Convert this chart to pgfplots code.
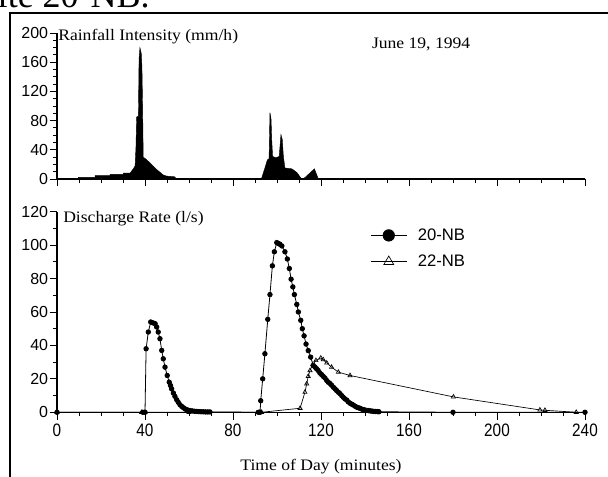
\documentclass[border=0pt]{standalone}
\usepackage{fontspec}
\usepackage{pgfplots}
\pgfplotsset{compat=1.18}
\newfontfamily\serifw{Liberation Serif}[FakeStretch=1.1]
\newfontfamily\headfont{Liberation Serif}
\newfontfamily\sansf{Liberation Sans}
\newfontfamily\xsans{Liberation Sans}[FakeStretch=0.85]

\pgfplotsset{
  common/.style={
    scale only axis, width=396pt, xmin=0, xmax=240, ymin=0,
    axis lines=left, axis line style={-, line width=0.8pt},
    xtick={0,40,...,240}, minor x tick num=3,
    tick align=outside, major tick length=5.5pt, minor tick length=3pt,
    every tick/.style={black, line width=0.7pt},
    /pgf/number format/assume math mode=true,
    yticklabel style={font=\sansf\fontsize{12}{14}\selectfont, inner xsep=1pt},
    xticklabel style={font=\xsans\fontsize{13.5}{16}\selectfont},
    clip=false,
  }
}

\begin{document}
\begin{tikzpicture}
% top panel: rainfall
\begin{axis}[common, at={(42.75pt,222.75pt)}, anchor=south west,
  height=109.5pt, ymax=200, ytick={0,40,...,200}, minor y tick num=3,
  xticklabels={}]
\addplot[fill=black, draw=black, line width=0.3pt] coordinates {
(0,0) (9.7,0) (9.7,2.3) (17.3,2.3) (17.3,4.6) (24.1,4.6) (24.1,6.4) (30.2,6.4)
(30.2,8) (33.2,8) (34.7,14) (35.5,18) (35.9,44) (36.2,85) (37,86) (37.3,165)
(37.7,180) (38.3,172) (38.6,155) (38.9,100) (39.2,30) (40.5,27) (42.3,22)
(45.3,13) (48.3,5.5) (49.8,4) (53.6,3) (54,0.5) (56,0) (71,0) (71,1) (92,1)
(93,1) (94.5,15) (95.6,26) (96.4,28) (96.8,91) (97.3,82) (97.6,54) (98,31)
(99.5,29) (101,31) (101.8,61) (102.4,54) (102.9,31) (103.6,15) (106.7,14)
(109,9) (111.2,0) (112,0) (117,14) (118.8,0) (119.5,0) (119.5,1) (138.5,1)
(138.5,0) (240,0)} \closedcycle;
\end{axis}

% bottom panel: discharge
\begin{axis}[common, at={(42.75pt,47.8pt)}, anchor=south west,
  height=150.45pt, ymax=120, ytick={0,20,...,120}, minor y tick num=1,
  legend style={draw=none, fill=none, at={(0.593,0.917)}, anchor=north west,
    font=\sansf\fontsize{12.5}{15}\selectfont, inner sep=0pt, row sep=9.5pt,
    column sep=8pt, nodes={inner sep=0pt}},
  legend cell align=left,
  legend image code/.code={\draw[mark repeat=2, mark phase=2, #1, mark size=4.3pt]
    plot coordinates {(0pt,0pt) (13.5pt,0pt) (27pt,0pt)};}]
\addplot[black, line width=0.6pt, mark=*, mark size=1.7pt] coordinates {
(0,0) (39,0) (40,0) (40.5,38) (41.5,48) (42.6,54) (43.6,53.5) (44.6,53) (45.3,51)
(46,48) (46.8,44) (47.6,37) (48.3,32) (49.1,27) (50.1,22) (51,18) (51.6,16)
(52.1,14) (52.9,11.5) (53.6,9.5) (54.4,7.5) (55.1,6) (55.9,4.5) (56.7,3.5)
(57.5,2.7) (58.2,2) (59,1.5) (59.7,1.2) (60.5,1) (61.5,0.8) (62.5,0.6)
(63.5,0.5) (64.5,0.4) (65.5,0.3) (66.5,0.3) (67.5,0.2) (68.5,0.2) (69.5,0.2)
(91.5,0) (92.3,0) (92.6,6.9) (93.5,20) (94.5,35) (95.8,55.6) (96.8,70.4)
(97.9,87.6) (98.8,96) (99.9,101.5) (100.6,101) (101.3,100.5) (102.2,99.5)
(103.6,96) (104.7,91.7) (105.6,86) (106.4,79.6) (107.2,75) (107.9,70.4)
(109,64.5) (109.7,60) (110.8,55) (111.5,50) (112.3,45.7) (113.2,40.8)
(114.2,36.9) (115.3,33) (116.5,28) (117.3,27) (118,26) (118.7,25) (119.5,23.5)
(120.3,22.5) (121,21.5) (121.8,20.5) (122.6,19) (123.3,18) (124.1,17.2)
(124.8,16.2) (125.6,15) (126.4,14) (127.1,13) (127.9,12) (128.6,11.2)
(129.4,10) (130.1,9) (130.9,8) (131.7,7.3) (132.4,6.2) (133.2,5.4) (134,4.8)
(134.7,4.3) (135.5,3.6) (136.3,3) (137,2.7) (137.7,2.4) (138.5,1.9) (139.3,1.6)
(140,1.3) (140.8,1.1) (141.6,1) (142.4,0.8) (143.2,0.7) (144,0.5) (144.8,0.5)
(145.6,0.4) (146.3,0.3) (180,0) (240,0)};
\addlegendentry{20-NB}
\addplot[black, line width=0.5pt, mark=triangle, mark size=1.8pt,
  mark options={line width=0.5pt, fill=white}] coordinates {
(0,0) (38.5,0) (40,0) (60,0) (92,0) (93,0) (110.5,2.4) (112.7,12) (113.5,17)
(114.2,21.5) (115,25) (116.2,28.5) (117.7,31) (119.9,32.5) (121,31.5)
(122.6,29.5) (124.8,27) (127.9,24) (133.2,22) (180.2,9.2) (219.5,1.4)
(221.8,1.2) (236,0)};
\addlegendentry{22-NB}
\end{axis}

% texts
\node[anchor=west, font=\serifw\fontsize{12}{14}\selectfont, inner sep=0pt] at (43.5pt,329.25pt) {Rainfall Intensity (mm/h)};
\node[anchor=west, font=\serifw\fontsize{12}{14}\selectfont, inner sep=0pt] at (278.8pt,324pt) {June 19, 1994};
\node[anchor=west, font=\serifw\fontsize{12}{14}\selectfont, inner sep=0pt] at (47.25pt,192.75pt) {Discharge Rate (l/s)};
\node[anchor=center, font=\serifw\fontsize{12}{14}\selectfont, inner sep=0pt] at (240.75pt,6.75pt) {Time of Day (minutes)};
\node[anchor=base east, font=\headfont\fontsize{27}{30}\selectfont, inner sep=0pt] at (112.5pt,351pt) {site 20-NB.};
% frame
\draw[line width=1.5pt] (7.5pt,-10pt) -- (7.5pt,347.25pt) -- (470pt,347.25pt);

\pgfresetboundingbox
\useasboundingbox (0,0) rectangle (456pt,357pt);
\end{tikzpicture}
\end{document}
